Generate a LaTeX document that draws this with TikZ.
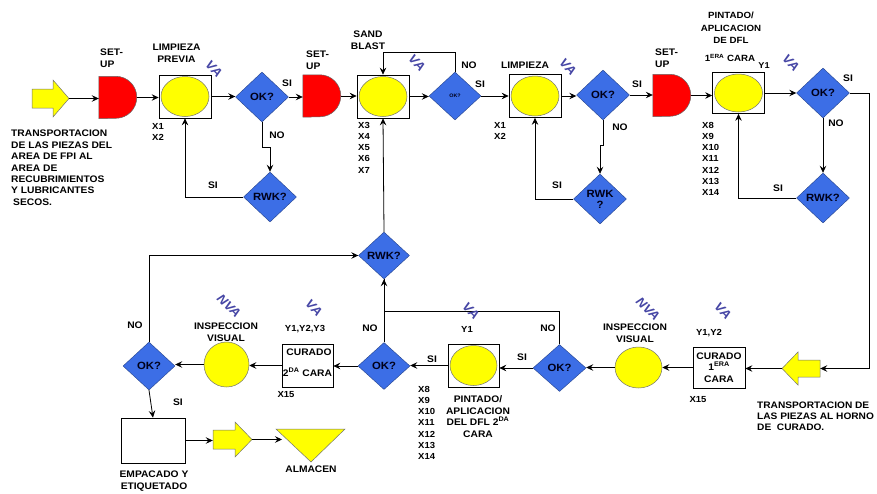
\documentclass[tikz,border=0pt]{standalone}
\usepackage{fontspec}
\setmainfont{Liberation Sans}[FakeStretch=1.08]
\usetikzlibrary{shapes.geometric,arrows.meta}
\definecolor{dblue}{RGB}{60,110,230}
\definecolor{vablue}{RGB}{70,70,165}
\definecolor{ylw}{RGB}{255,255,0}
\definecolor{rd}{RGB}{255,0,0}
\tikzset{
 lbl/.style={font=\fontsize{9.5}{12}\selectfont\bfseries, align=center, inner sep=0},
 xl/.style={font=\fontsize{8.8}{11.2}\selectfont\bfseries, align=left, inner sep=0, anchor=north west},
 dia/.style={diamond, fill=dblue, draw=dblue!60!black, line width=0.4pt, inner sep=0, minimum width=53pt, minimum height=50pt, font=\fontsize{10.5}{11}\selectfont\bfseries, text=black!90!blue, align=center},
 pbox/.style={rectangle, draw=black, line width=0.7pt, fill=white, minimum width=52pt, minimum height=43pt, inner sep=0},
 yel/.style={ellipse, fill=ylw, draw=black!55, line width=0.5pt, inner sep=0},
 conn/.style={draw=black, line width=0.8pt, -{Stealth[length=7pt,width=6.5pt,inset=2.5pt]}},
 plain/.style={draw=black, line width=0.8pt},
 va/.style={font=\fontsize{12.5}{12.5}\selectfont\bfseries\itshape, text=vablue, rotate=-45, inner sep=0},
 hid/.style={rectangle, inner sep=0, draw=none},
 yshape/.style={fill=ylw, draw=black!55, line width=0.5pt},
 rshape/.style={fill=rd, draw=black!60, line width=0.5pt},
}
\begin{document}
\begin{tikzpicture}[x=1pt,y=-1pt]
\useasboundingbox (0,0) rectangle (877,493);

% ---------- top row ----------
\node[hid, minimum width=37pt, minimum height=37pt] (tr1) at (50.5,98.5) {};
\draw[yshape] (32,89) -- (53,89) -- (53,80) -- (69,98.5) -- (53,117) -- (53,108) -- (32,108) -- cycle;

\node[hid, minimum width=38pt, minimum height=42pt] (su1) at (118,97.5) {};
\draw[rshape] (su1.north west) -- ++(17,0) arc[start angle=90, end angle=-90, radius=21pt] -- (su1.south west) -- cycle;
\node[pbox] (box1) at (185,96.5) {};
\node[yel, minimum width=48pt, minimum height=40pt] (e1) at (185,96.5) {};
\node[dia] (ok1) at (262,97) {OK?};
\node[dia] (rwk1) at (270,197) {RWK?};

\node[hid, minimum width=38pt, minimum height=42pt] (su2) at (322,96) {};
\draw[rshape] (su2.north west) -- ++(17,0) arc[start angle=90, end angle=-90, radius=21pt] -- (su2.south west) -- cycle;
\node[pbox] (box2) at (383,96.5) {};
\node[yel, minimum width=48pt, minimum height=40pt] (e2) at (383,96.5) {};
\node[dia, minimum width=52pt, minimum height=48pt, font=\fontsize{5}{6}\selectfont\bfseries] (ok2) at (455,96) {OK?};

\node[pbox] (box3) at (535,96) {};
\node[yel, minimum width=48pt, minimum height=40pt] (e3) at (535,96) {};
\node[dia] (ok3) at (603,95) {OK?};
\node[dia] (rwk3) at (600,199) {RWK\\?};

\node[hid, minimum width=38pt, minimum height=42pt] (su3) at (672,95.5) {};
\draw[rshape] (su3.north west) -- ++(17,0) arc[start angle=90, end angle=-90, radius=21pt] -- (su3.south west) -- cycle;
\node[pbox, minimum height=41pt] (box4) at (738.5,93) {};
\node[yel, minimum width=48pt, minimum height=38pt] (e4) at (738.5,93) {};
\node[dia] (ok4) at (823,93) {OK?};
\node[dia] (rwk4) at (823,198) {RWK?};

% ---------- bottom row ----------
\node[hid, minimum width=38pt, minimum height=33pt] (tr2) at (801,368.5) {};
\draw[yshape] (820,360) -- (798,360) -- (798,352) -- (782,368.5) -- (798,385) -- (798,377) -- (820,377) -- cycle;
\node[pbox, minimum height=41pt, font=\fontsize{9.5}{11.5}\selectfont\bfseries, align=center] (cur1) at (719,367.5) {CURADO\\1\textsuperscript{ERA}\\CARA};
\node[yel, minimum width=47pt, minimum height=41pt] (circ1) at (638.5,367.5) {};
\node[dia, minimum height=47pt] (okb1) at (559.5,368) {OK?};
\node[pbox, minimum width=51pt] (pin2) at (473.5,365.5) {};
\node[yel, minimum width=47pt, minimum height=40pt] (e5) at (473.5,365.5) {};
\node[dia, minimum width=52pt, minimum height=47pt] (okb2) at (384,366) {OK?};
\node[pbox, minimum width=51pt] (cur2) at (307.5,365.5) {};
\node[lbl, font=\fontsize{9.5}{12}\selectfont\bfseries] (cur2a) at (309,352.5) {CURADO};
\node[lbl, font=\fontsize{9.5}{12}\selectfont\bfseries] (cur2b) at (307.5,372) {2\textsuperscript{DA} CARA};
\node[yel, minimum width=45pt, minimum height=45pt] (circ2) at (226.5,364.5) {};
\node[dia, minimum width=52pt, minimum height=48pt] (okb3) at (149,366) {OK?};
\node[pbox, minimum width=64pt, minimum height=45pt] (box5) at (153,440.5) {};
\node[hid, minimum width=39pt, minimum height=35pt] (tr3) at (232.5,439.5) {};
\draw[yshape] (213,430) -- (235,430) -- (235,422) -- (252,439.5) -- (235,457) -- (235,449) -- (213,449) -- cycle;
\node[hid, minimum width=69pt, minimum height=33pt] (tri) at (310.5,445.5) {};
\draw[yshape] (276,429) -- (345,429) -- (311,462) -- cycle;
\coordinate (trin) at (282,439.5);
\node[dia, minimum width=51pt, minimum height=47pt] (rwkc) at (384,255.5) {RWK?};

% ---------- connectors ----------
\draw[conn] (tr1.east) -- (tr1.east -| su1.west);
\draw[conn] (su1.east) -- (su1.east -| box1.west);
\draw[conn] (box1.east) -- (box1.east -| ok1.west);
\draw[conn] (ok1.east) -- (ok1.east -| su2.west);
\draw[conn] (ok1.south) -- ++(0,25) -| (rwk1.north);
\draw[conn] (rwk1.west) -| (box1.south);
\draw[conn] (su2.east) -- (su2.east -| box2.west);
\draw[conn] (box2.east) -- (box2.east -| ok2.west);
\draw[conn] (ok2.north) -- ++(0,-19) -| (box2.north);
\draw[conn] (ok2.east) -- (ok2.east -| box3.west);
\draw[conn] (box3.east) -- (box3.east -| ok3.west);
\draw[conn] (ok3.east) -- (ok3.east -| su3.west);
\draw[conn] (ok3.south) -- ++(0,25) -| (rwk3.north);
\draw[conn] (rwk3.west) -| (box3.south);
\draw[conn] (su3.east) -- (su3.east -| box4.west);
\draw[conn] (box4.east) -- (box4.east -| ok4.west);
\draw[conn] (ok4.south) -- (rwk4.north);
\draw[conn] (rwk4.west) -| (box4.south);
\draw[conn] (ok4.east) -- ++(20,0) |- (tr2.east);
\draw[conn] (tr2.west) -- (tr2.west -| cur1.east);
\draw[conn] (cur1.west) -- (cur1.west -| circ1.east);
\draw[conn] (circ1.west) -- (circ1.west -| okb1.east);
\draw[conn] (okb1.west) -- (okb1.west -| pin2.east);
\draw[conn] (okb1.north) -- ++(0,-33) -| (rwkc.south);
\draw[plain] (okb2.north) -- (rwkc.south);
\draw[conn] (rwkc.north) -- (box2.south);
\draw[conn] (pin2.west) -- (pin2.west -| okb2.east);
\draw[conn] (okb2.west) -- (okb2.west -| cur2.east);
\draw[conn] (cur2.west) -- (cur2.west -| circ2.east);
\draw[conn] (circ2.west) -- (circ2.west -| okb3.east);
\draw[conn] (okb3.north) |- (rwkc.west);
\draw[conn] (okb3.south) -- (box5.north);
\draw[conn] (box5.east) -- (box5.east -| tr3.west);
\draw[conn] (tr3.east) -- (trin);

% ---------- labels ----------
\node[lbl, align=left, anchor=north west, font=\fontsize{9.5}{11.4}\selectfont\bfseries] (t0) at (11,130) {TRANSPORTACION\\DE LAS PIEZAS DEL\\AREA DE FPI AL\\AREA DE\\RECUBRIMIENTOS\\Y LUBRICANTES\\\hspace*{2pt}SECOS.};
\node[lbl, align=left, anchor=north west] (l1) at (100,49) {SET-\\UP};
\node[lbl] (l2) at (176.5,53) {LIMPIEZA\\PREVIA};
\node[va] (va1) at (214,69) {VA};
\node[xl] (x1) at (152,123) {X1\\X2};
\node[lbl] (s1) at (287,83) {SI};
\node[lbl] (n1) at (277,135) {NO};
\node[lbl] (s1b) at (213,185) {SI};

\node[lbl, align=left, anchor=north west] (l3) at (306,51) {SET-\\UP};
\node[lbl] (l4) at (368,40) {SAND\\BLAST};
\node[va] (va2) at (417,63) {VA};
\node[lbl] (n2) at (469,65) {NO};
\node[lbl] (s2) at (480,84) {SI};
\node[xl] (x2) at (358,122) {X3\\X4\\X5\\X6\\X7};

\node[lbl] (l5) at (525,65.5) {LIMPIEZA};
\node[va] (va3) at (568,67) {VA};
\node[xl] (x3) at (494,122) {X1\\X2};
\node[lbl] (s3) at (637,84) {SI};
\node[lbl] (n3) at (620,127) {NO};
\node[lbl] (s3b) at (557,185) {SI};
\node[lbl, align=left, anchor=north west] (l6) at (655,49) {SET-\\UP};

\node[lbl, font=\fontsize{9}{12.5}\selectfont\bfseries] (l7) at (731,28) {PINTADO/\\APLICACION\\DE DFL};
\node[lbl, font=\fontsize{9}{12}\selectfont\bfseries] (l8) at (730,58) {1\textsuperscript{ERA} CARA};
\node[lbl, font=\fontsize{8.5}{10}\selectfont\bfseries] (y1) at (764,65.5) {Y1};
\node[va] (va4) at (791,63) {VA};
\node[xl] (x4) at (702,122) {X8\\X9\\X10\\X11\\X12\\X13\\X14};
\node[lbl] (s4) at (848,78) {SI};
\node[lbl] (n4) at (836,123) {NO};
\node[lbl] (s4b) at (778,188) {SI};

\node[lbl, align=left, anchor=north west, font=\fontsize{9.4}{10.8}\selectfont\bfseries] (t1) at (757,402) {TRANSPORTACION DE\\LAS PIEZAS AL HORNO\\DE\ \ CURADO.};
\node[lbl, font=\fontsize{8.8}{10}\selectfont\bfseries] (y12) at (709,333) {Y1,Y2};
\node[va] (va5) at (723,311) {VA};
\node[lbl, font=\fontsize{8.8}{10}\selectfont\bfseries] (x15a) at (698,400) {X15};
\node[lbl] (l9) at (635,333) {INSPECCION\\VISUAL};
\node[va] (nva1) at (648,309) {NVA};
\node[lbl] (s5) at (522,357) {SI};
\node[lbl] (n5) at (548,328) {NO};
\node[lbl, font=\fontsize{9.5}{11.5}\selectfont\bfseries] (l10) at (478,416.5) {PINTADO/\\APLICACION\\DEL DFL 2\textsuperscript{DA}\\CARA};
\node[lbl, font=\fontsize{8.8}{10}\selectfont\bfseries] (y1b) at (467,329) {Y1};
\node[va] (va6) at (471,311) {VA};
\node[lbl] (s6) at (432,359) {SI};
\node[xl] (x5) at (418,386) {X8\\X9\\X10\\X11\\X12\\X13\\X14};
\node[lbl] (n6) at (370,328) {NO};
\node[lbl, font=\fontsize{8.8}{10}\selectfont\bfseries] (y123) at (305,329) {Y1,Y2,Y3};
\node[va] (va7) at (314,308) {VA};
\node[lbl, font=\fontsize{8.8}{10}\selectfont\bfseries] (x15b) at (286,395) {X15};
\node[lbl] (l11) at (226,332) {INSPECCION\\VISUAL};
\node[va] (nva2) at (229,306) {NVA};
\node[lbl] (n7) at (135,325) {NO};
\node[lbl] (s7) at (178,402) {SI};
\node[lbl] (l12) at (154,481) {EMPACADO Y\\ETIQUETADO};
\node[lbl] (l13) at (311,469) {ALMACEN};
\end{tikzpicture}
\end{document}
